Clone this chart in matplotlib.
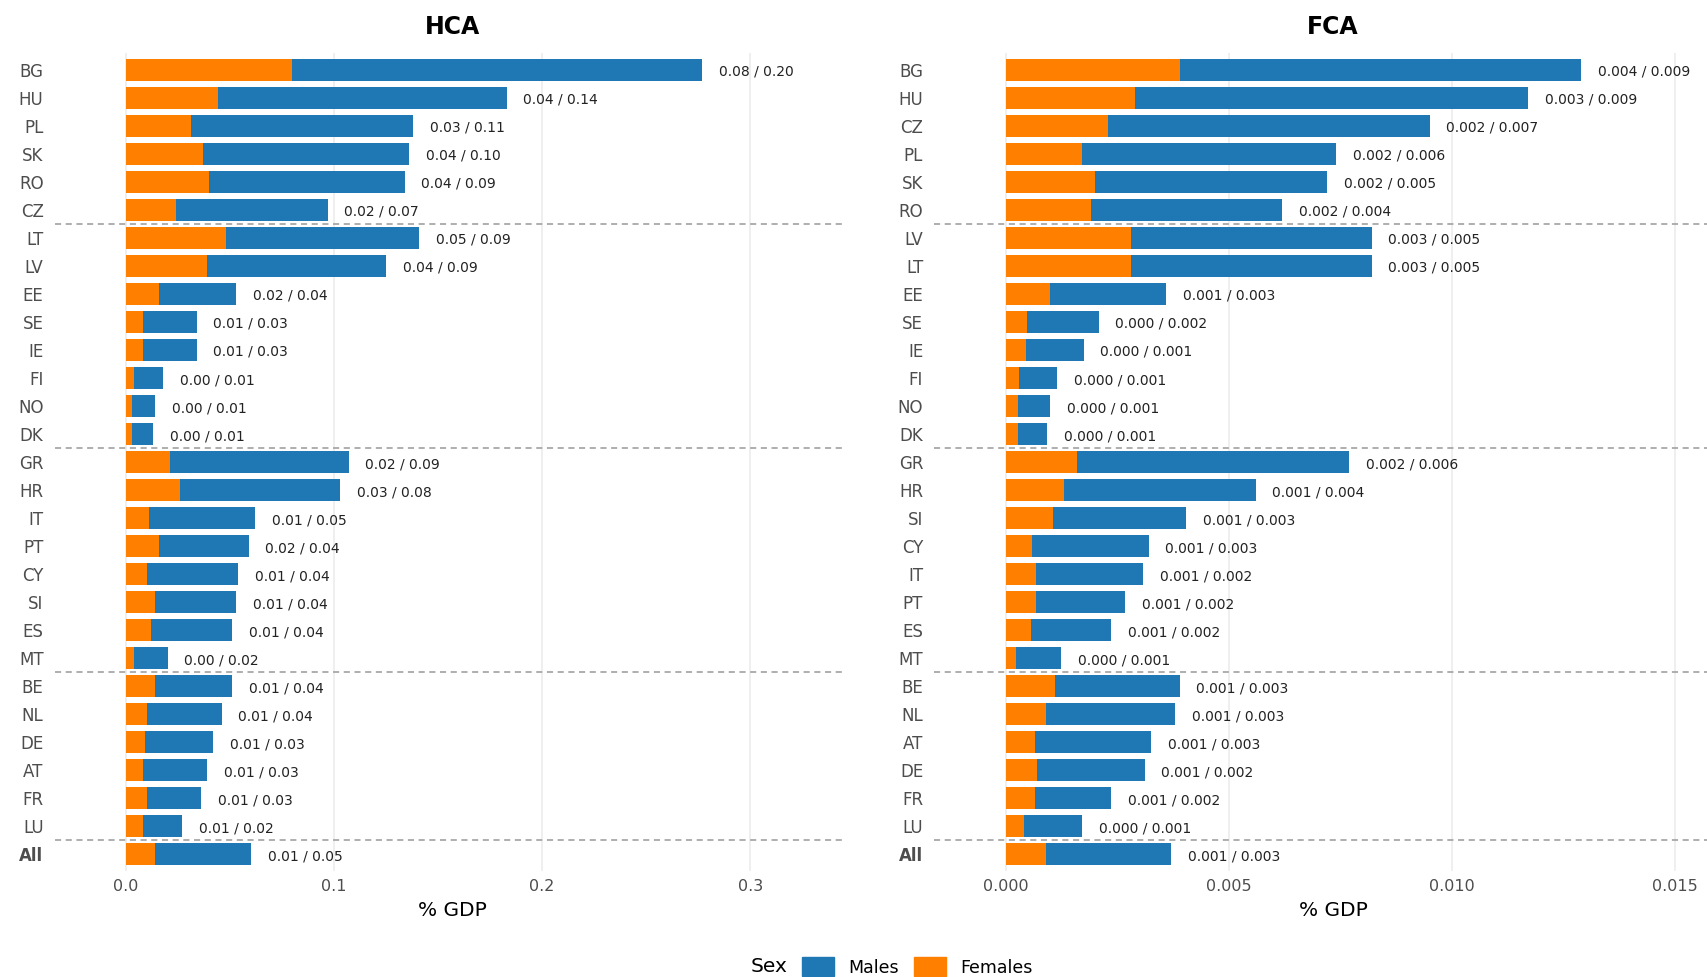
import numpy as np
import matplotlib
matplotlib.use("Agg")
import matplotlib.pyplot as plt
from matplotlib.patches import Patch

plt.rcParams['font.family'] = ['DejaVu Sans']

# HCA panel
hca_countries = ["BG", "HU", "PL", "SK", "RO", "CZ", "LT", "LV", "EE", "SE", "IE", "FI", "NO", "DK",
                 "GR", "HR", "IT", "PT", "CY", "SI", "ES", "MT", "BE", "NL", "DE", "AT", "FR", "LU", "All"]
hca_females = [0.080, 0.044, 0.031, 0.037, 0.040, 0.024, 0.048, 0.039, 0.016, 0.008, 0.008, 0.004, 0.003, 0.003,
               0.021, 0.026, 0.011, 0.016, 0.010, 0.014, 0.012, 0.004, 0.014, 0.010, 0.009, 0.008, 0.010, 0.008, 0.014]
hca_males = [0.197, 0.139, 0.107, 0.099, 0.094, 0.073, 0.093, 0.086, 0.037, 0.026, 0.026, 0.014, 0.011, 0.010,
             0.086, 0.077, 0.051, 0.043, 0.044, 0.039, 0.039, 0.016, 0.037, 0.036, 0.033, 0.031, 0.026, 0.019, 0.046]

# FCA panel
fca_countries = ["BG", "HU", "CZ", "PL", "SK", "RO", "LV", "LT", "EE", "SE", "IE", "FI", "NO", "DK",
                 "GR", "HR", "SI", "CY", "IT", "PT", "ES", "MT", "BE", "NL", "AT", "DE", "FR", "LU", "All"]
fca_females = [0.0039, 0.0029, 0.0023, 0.0017, 0.0020, 0.0019, 0.0028, 0.0028, 0.0010, 0.00048, 0.00045, 0.00029,
               0.00027, 0.00027, 0.0016, 0.0013, 0.00105, 0.0006, 0.00068, 0.00068, 0.00056, 0.00024, 0.0011,
               0.0009, 0.00066, 0.00071, 0.00066, 0.00041, 0.0009]
fca_males = [0.0090, 0.0088, 0.0072, 0.0057, 0.0052, 0.0043, 0.0054, 0.0054, 0.0026, 0.0016, 0.0013, 0.00086,
             0.00073, 0.00066, 0.0061, 0.0043, 0.0030, 0.0026, 0.0024, 0.0020, 0.0018, 0.0010, 0.0028, 0.0029,
             0.0026, 0.0024, 0.0017, 0.0013, 0.0028]

group_sizes = [6, 8, 8, 6, 1]  # regional groups, last one is "All"

hca_ticks = [0.0, 0.1, 0.2, 0.3]
fca_ticks = [0.000, 0.005, 0.010, 0.015]

col_f = "#FF7F00"
col_m = "#1F77B4"

fig = plt.figure(figsize=(17.08, 9.77), dpi=100)
ax1 = fig.add_axes([0.032, 0.1085, 0.4625, 0.8373])
ax2 = fig.add_axes([0.547, 0.1085, 0.467, 0.8373])  # right panel runs a bit past the edge


def draw_panel(ax, title, countries, fem, mal, ticks, tickfmt, labfmt, xlim, xc):
    y = np.arange(len(countries))
    fem = np.array(fem)
    mal = np.array(mal)
    ax.barh(y, fem, height=0.8, color=col_f, zorder=3)
    ax.barh(y, mal, left=fem, height=0.8, color=col_m, zorder=3)
    for yi, f, m in zip(y, fem, mal):
        ax.annotate(labfmt % (f, m), xy=(f + m, yi), xytext=(12, -1.5), textcoords="offset points",
                    ha="left", va="center", fontsize=10, color="#222222")
    # separators between groups
    for b in np.cumsum(group_sizes)[:-1]:
        ax.axhline(b - 0.5, color="#999999", ls=(0, (4, 3)), lw=1.1, zorder=2)
    ax.set_xlim(*xlim)
    ax.set_ylim(len(countries) - 0.4, -0.6)
    ax.set_xticks(ticks)
    ax.set_xticklabels([tickfmt % t for t in ticks], fontsize=11.5, color="#4D4D4D")
    ax.set_yticks(y)
    ax.set_yticklabels(countries, fontsize=12, color="#4D4D4D")
    ax.get_yticklabels()[-1].set_fontweight("bold")
    ax.tick_params(length=0, pad=8)
    ax.tick_params(axis="x", pad=6)
    ax.grid(axis="x", color="#EBEBEB", lw=1.1, zorder=0)
    for s in ax.spines.values():
        s.set_visible(False)
    ax.set_title(title, fontsize=17, fontweight="bold", pad=14, x=xc)
    ax.set_xlabel("% GDP", fontsize=14.5, labelpad=3)
    ax.xaxis.set_label_coords(xc, -0.037)


draw_panel(ax1, "HCA", hca_countries, hca_females, hca_males, hca_ticks, "%.1f", "%.2f / %.2f",
           (-0.0343, 0.3454), 0.504)
draw_panel(ax2, "FCA", fca_countries, fca_females, fca_males, fca_ticks, "%.3f", "%.3f / %.3f",
           (-0.0016, 0.01627), 0.5)

handles = [Patch(color=col_m, label="Males"), Patch(color=col_f, label="Females")]
fig.legend(handles=handles, loc="center", bbox_to_anchor=(0.537, 0.0105), ncol=2, frameon=False,
           fontsize=12.5, handlelength=1.85, handleheight=1.35, columnspacing=0.9, handletextpad=0.8)
fig.text(0.461, 0.0105, "Sex", fontsize=14.5, ha="right", va="center")

fig.savefig("out.png", dpi=100)
